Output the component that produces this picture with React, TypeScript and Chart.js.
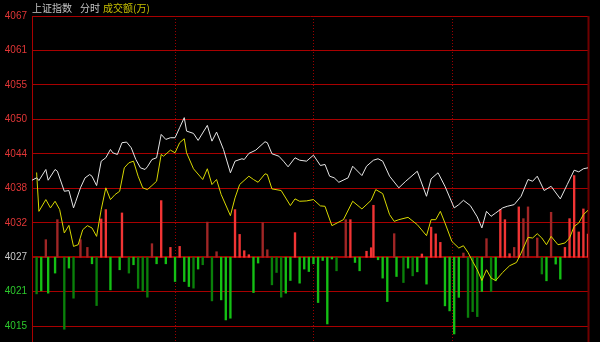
import React, { useEffect, useRef } from 'react';
import { Chart, registerables } from 'chart.js';

Chart.register(...registerables);

// ---------- data ----------
const prevClose = 4027.2;
const yMin = 4013.06;
const yMax = 4067.45;
const xMax = 241;
const hourMarks = [62, 122, 182];
const yTickValues = [4015.7, 4021.45, 4027.2, 4032.95, 4038.7, 4044.45, 4050.2, 4055.95, 4061.7, 4067.45];
const yTickLabels = ['4015', '4021', '4027', '4032', '4038', '4044', '4050', '4055', '4061', '4067'];

const priceMinutes = [
  0, 2, 3, 6, 7, 10, 11, 14, 16, 18, 19, 21, 23, 25, 26, 28, 30, 32, 34, 35,
  37, 39, 41, 43, 45, 47, 49, 50, 52, 54, 56, 58, 60, 62, 64, 66, 67, 70, 72, 76,
  78, 80, 83, 86, 88, 91, 92, 94, 97, 101, 102, 104, 107, 109, 111, 114, 116, 119,
  122, 125, 127, 129, 131, 133, 137, 139, 143, 145, 148, 150, 152, 155, 159, 162, 167, 171, 173, 176,
  179, 183, 185, 187, 190, 193, 195, 197, 199, 201, 204, 206, 209, 212, 215, 217, 219, 222, 225, 229,
  232, 235, 237, 239, 241,
];
const priceValues = [
  4040.05, 4040.45, 4040.0, 4041.84, 4040.05, 4041.84, 4041.55, 4038.21, 4038.33, 4035.43,
  4036.54, 4038.78, 4040.45, 4041.0, 4040.72, 4039.16, 4043.23, 4043.8, 4045.18, 4044.63,
  4044.35, 4046.31, 4046.41, 4045.47, 4043.51, 4042.12, 4041.84, 4042.29, 4043.51, 4043.8,
  4047.69, 4046.86, 4047.14, 4047.14, 4048.82, 4050.49, 4048.25, 4047.86, 4046.69, 4049.2,
  4046.57, 4048.08, 4045.18, 4041.29, 4043.23, 4043.63, 4043.51, 4044.52, 4045.07, 4046.47,
  4046.31, 4044.47, 4044.06, 4043.23, 4042.29, 4043.8, 4043.39, 4043.23, 4044.23, 4042.51,
  4042.68, 4040.72, 4040.45, 4039.71, 4040.45, 4042.39, 4040.83, 4042.39, 4043.39, 4043.63,
  4043.23, 4040.72, 4038.78, 4039.88, 4041.55, 4037.37, 4040.28, 4041.29, 4039.04, 4035.43,
  4035.98, 4036.7, 4035.82, 4033.93, 4032.09, 4034.86, 4034.03, 4034.59, 4035.43, 4035.7,
  4035.98, 4037.37, 4040.17, 4039.88, 4040.72, 4038.33, 4039.04, 4036.94, 4039.33, 4041.72,
  4041.45, 4041.96, 4042.12,
];

const avgMinutes = [
  2, 3, 6, 8, 10, 12, 14, 16, 18, 20, 22, 24, 26, 28, 30, 32, 34, 36, 38, 40,
  42, 44, 46, 48, 50, 52, 54, 56, 57, 60, 62, 64, 66, 67, 70, 74, 76, 78, 80, 82,
  86, 88, 90, 94, 96, 98, 101, 102, 104, 108, 112, 114, 116, 119, 122, 125, 127, 130, 135, 139,
  143, 147, 149, 152, 155, 157, 159, 163, 167, 171, 173, 175, 177, 179, 182, 185, 187, 189, 191, 193,
  195, 197, 199, 201, 204, 207, 210, 212, 215, 217, 219, 221, 223, 225, 228, 231, 233, 235, 237, 239,
  241,
];
const avgValues = [
  4041.34, 4034.86, 4036.82, 4035.43, 4036.54, 4035.15, 4031.25, 4032.52, 4029.01, 4029.29,
  4031.8, 4032.47, 4032.09, 4030.68, 4035.15, 4038.78, 4036.82, 4037.66, 4038.21, 4042.12,
  4042.96, 4043.23, 4040.72, 4038.78, 4038.49, 4039.16, 4039.88, 4044.35, 4044.06, 4045.07,
  4044.63, 4046.31, 4046.97, 4044.63, 4041.96, 4040.17, 4041.96, 4039.33, 4040.17, 4037.66,
  4034.14, 4037.1, 4039.33, 4040.72, 4040.17, 4039.71, 4041.12, 4041.0, 4038.61, 4038.33,
  4035.82, 4036.94, 4036.54, 4036.6, 4036.82, 4035.77, 4035.7, 4032.47, 4033.47, 4036.54,
  4035.26, 4036.7, 4038.49, 4037.82, 4034.31, 4033.19, 4033.47, 4033.86, 4032.64, 4030.8,
  4033.47, 4033.47, 4034.86, 4032.92, 4029.84, 4028.74, 4029.12, 4028.0, 4026.5, 4025.11,
  4023.32, 4025.11, 4023.72, 4023.32, 4024.66, 4025.78, 4026.33, 4027.9, 4030.51, 4030.41,
  4031.13, 4030.41, 4029.29, 4030.68, 4029.29, 4029.58, 4030.41, 4032.35, 4032.92, 4034.31,
  4035.03,
];

const upMinutes = [
  6, 11, 21, 24, 30, 32, 39, 52, 56, 60, 64, 76, 80, 88, 90, 92, 94, 100, 102, 114,
  136, 138, 145, 147, 148, 157, 169, 173, 175, 177, 187, 197, 203, 205, 207, 209, 211, 213, 215, 219,
  225, 231, 233, 235, 237, 239, 241,
];
const upValues = [
  4030.13, 4033.47, 4030.13, 4028.84, 4033.59, 4035.15, 4034.59, 4029.46, 4036.65, 4028.84,
  4029.01, 4033.06, 4028.12, 4035.15, 4031.01, 4028.29, 4027.62, 4032.97, 4028.45, 4031.3,
  4033.47, 4033.47, 4028.2, 4028.79, 4035.87, 4031.13, 4027.74, 4032.22, 4031.1, 4029.68,
  4027.9, 4030.3, 4035.15, 4033.47, 4027.79, 4028.84, 4035.6, 4033.64, 4035.6, 4030.41,
  4034.7, 4028.84, 4033.64, 4040.83, 4031.42, 4035.26, 4031.08,
];
const upStrong = [
  0, 0, 0, 0, 1, 1, 1, 0, 1, 1, 1, 0, 0, 1, 1, 1, 1, 0, 0, 1,
  0, 1, 1, 1, 1, 0, 1, 1, 1, 1, 0, 0, 1, 1, 1, 0, 1, 0, 0, 0,
  0, 1, 1, 1, 1, 1, 1,
];

const downMinutes = [
  2, 4, 7, 10, 14, 16, 18, 26, 28, 34, 38, 42, 44, 46, 48, 50, 54, 58, 62, 66,
  68, 70, 72, 74, 78, 82, 84, 86, 96, 98, 104, 106, 108, 110, 112, 116, 118, 120, 122, 124,
  126, 128, 130, 132, 140, 142, 150, 152, 154, 158, 161, 163, 165, 167, 171, 179, 181, 183, 185, 189,
  191, 193, 195, 199, 201, 221, 223, 227, 229,
];
const downValues = [
  4021.09, 4021.6, 4021.21, 4024.56, 4015.19, 4025.39, 4020.37, 4026.11, 4019.14, 4021.76,
  4025.11, 4024.56, 4025.95, 4022.01, 4021.6, 4020.54, 4026.11, 4026.11, 4023.15, 4023.15,
  4022.31, 4022.05, 4025.23, 4025.95, 4019.92, 4020.09, 4016.74, 4017.03, 4021.31, 4026.23,
  4022.6, 4024.66, 4020.54, 4021.21, 4023.32, 4022.88, 4025.23, 4024.82, 4026.11, 4019.64,
  4026.66, 4016.07, 4026.9, 4024.94, 4026.33, 4024.94, 4026.78, 4023.72, 4019.81, 4023.99,
  4022.98, 4025.39, 4024.1, 4024.77, 4022.72, 4019.09, 4018.25, 4014.4, 4020.51, 4017.16,
  4018.13, 4017.3, 4021.48, 4021.48, 4023.27, 4024.41, 4023.27, 4026.06, 4023.55,
];
const downStrong = [
  0, 1, 1, 1, 0, 1, 0, 1, 0, 1, 1, 0, 1, 0, 0, 0, 1, 1, 1, 1,
  1, 0, 1, 0, 0, 1, 1, 1, 1, 1, 0, 0, 0, 1, 1, 1, 1, 1, 1, 1,
  1, 1, 1, 0, 1, 1, 1, 1, 1, 1, 0, 1, 0, 1, 1, 1, 1, 1, 1, 0,
  0, 0, 1, 0, 1, 0, 1, 1, 1,
];

// ---------- styles ----------
const GRID = '#a80000';
const BASE_GRID = '#a00000';
const RED_TXT = '#e03636';
const GREEN_TXT = '#2cc82c';
const WHITE_TXT = '#c8c8c8';

const framePlugin = {
  id: 'frame',
  beforeDraw(chart: any) {
    const { ctx, width, height } = chart;
    ctx.save();
    ctx.fillStyle = '#000';
    ctx.fillRect(0, 0, width, height);
    ctx.restore();
  },
  beforeDatasetsDraw(chart: any) {
    const { ctx, chartArea, scales } = chart;
    const xs = scales.x;
    ctx.save();
    ctx.strokeStyle = '#9a0000';
    ctx.lineWidth = 1;
    ctx.setLineDash([1, 2]);
    hourMarks.forEach((m) => {
      const px = Math.round(xs.getPixelForValue(m)) + 0.5;
      ctx.beginPath();
      ctx.moveTo(px, chartArea.top);
      ctx.lineTo(px, chartArea.bottom);
      ctx.stroke();
    });
    ctx.setLineDash([]);
    ctx.strokeStyle = '#6e0000';
    ctx.lineWidth = 2;
    const rx = xs.getPixelForValue(xMax) + 0.5;
    ctx.beginPath();
    ctx.moveTo(rx, chartArea.top);
    ctx.lineTo(rx, chartArea.bottom);
    ctx.stroke();
    ctx.restore();
  },
};

export default function App() {
  const ref = useRef<HTMLCanvasElement | null>(null);

  useEffect(() => {
    if (!ref.current) return;
    const bars = [
      ...upMinutes.map((m, i) => ({ x: m, y: [prevClose, upValues[i]] })),
      ...downMinutes.map((m, i) => ({ x: m, y: [prevClose, downValues[i]] })),
    ];
    const barColors = [
      ...upStrong.map((s) => (s ? '#f03434' : '#a02626')),
      ...downStrong.map((s) => (s ? '#14c014' : '#0a800a')),
    ];
    const chart = new Chart(ref.current, {
      type: 'bar',
      data: {
        datasets: [
          {
            type: 'line',
            data: priceMinutes.map((m, i) => ({ x: m, y: priceValues[i] })),
            borderColor: '#e6e6e6',
            borderWidth: 1,
            pointRadius: 0,
            tension: 0,
            order: 1,
          } as any,
          {
            type: 'line',
            data: avgMinutes.map((m, i) => ({ x: m, y: avgValues[i] })),
            borderColor: '#d8d800',
            borderWidth: 1,
            pointRadius: 0,
            tension: 0,
            order: 2,
          } as any,
          {
            type: 'bar',
            data: bars as any,
            backgroundColor: barColors,
            barThickness: 1.7,
            grouped: false,
            order: 3,
          } as any,
        ],
      },
      options: {
        animation: false,
        responsive: false,
        layout: { padding: { top: 16, right: 12, bottom: 0, left: 0 } },
        plugins: { legend: { display: false }, tooltip: { enabled: false } },
        scales: {
          x: { type: 'linear', min: 0, max: xMax, display: false, offset: false },
          y: {
            type: 'linear',
            min: yMin,
            max: yMax,
            afterBuildTicks: (scale: any) => {
              scale.ticks = yTickValues.map((v) => ({ value: v }));
            },
            afterFit: (scale: any) => {
              scale.width = 32;
              scale.paddingTop = 0;
              scale.paddingBottom = 0;
            },
            border: { display: true, color: GRID, width: 1 },
            grid: {
              drawTicks: false,
              color: (c: any) => (c.tick && c.tick.value === prevClose ? BASE_GRID : GRID),
              lineWidth: (c: any) => (c.tick && c.tick.value === prevClose ? 2 : 1),
            },
            ticks: {
              padding: 5,
              font: { family: 'Liberation Sans', size: 10 },
              color: (c: any) => {
                const v = c.tick ? c.tick.value : 0;
                if (v > prevClose) return RED_TXT;
                if (v < prevClose) return GREEN_TXT;
                return WHITE_TXT;
              },
              callback: (_v: any, i: number) => yTickLabels[i],
            },
          },
        },
      },
      plugins: [framePlugin],
    });
    return () => chart.destroy();
  }, []);

  const titleStyle: React.CSSProperties = {
    position: 'absolute',
    top: 0,
    height: 16,
    lineHeight: '16px',
    fontSize: 10,
    fontFamily: '"Noto Sans CJK SC", sans-serif',
    whiteSpace: 'nowrap',
  };

  return (
    <div style={{ position: 'fixed', left: 0, top: 0, width: 600, height: 342, background: '#000', overflow: 'hidden' }}>
      <canvas ref={ref} width={600} height={342} style={{ display: 'block' }} />
      <span style={{ ...titleStyle, left: 32, color: '#c4c4c4' }}>上证指数</span>
      <span style={{ ...titleStyle, left: 80, color: '#c4c4c4' }}>分时</span>
      <span style={{ ...titleStyle, left: 103, color: '#c8c000' }}>成交额(万)</span>
    </div>
  );
}
